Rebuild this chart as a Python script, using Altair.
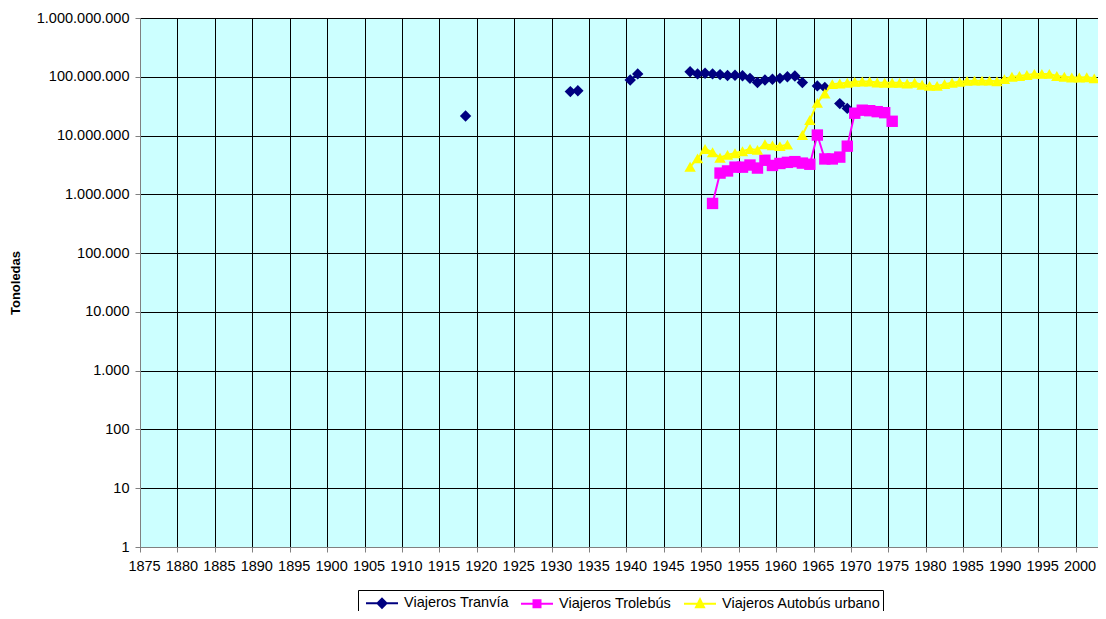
import altair as alt
import pandas as pd

names = ["Viajeros Tranvía", "Viajeros Trolebús", "Viajeros Autobús urbano"]
colors = ["#000080", "#FF00FF", "#FFFF00"]
shapes = ["diamond", "square", "triangle-up"]
legend_paths = [
    "M-0.5,0H2.7M1.1,-0.45L1.55,0L1.1,0.45L0.65,0Z",
    "M-0.5,0H2.7M0.75,-0.35H1.45V0.35H0.75Z",
    "M-0.5,0H2.7M1.1,-0.45L1.5,0.35H0.7Z",
]

tranvia_years = [1918, 1932, 1933, 1940, 1941,
                 1948, 1949, 1950, 1951, 1952, 1953, 1954, 1955, 1956, 1957,
                 1958, 1959, 1960, 1961, 1962, 1963,
                 1965, 1966, 1968, 1969]
tranvia_values = [21500000, 56000000, 58000000, 88000000, 112000000,
                  122000000, 112000000, 115000000, 112000000, 109000000, 105000000,
                  106000000, 104000000, 94000000, 80000000,
                  88000000, 91000000, 94000000, 100000000, 103000000, 80000000,
                  70000000, 66000000, 35000000, 29000000]

trolebus_years = list(range(1951, 1976))
trolebus_values = [700000, 2300000, 2500000, 2900000, 2900000, 3150000, 2800000,
                   3800000, 3100000, 3350000, 3500000, 3600000, 3400000, 3250000,
                   10200000, 4000000, 4000000, 4300000, 6600000,
                   24000000, 27000000, 26500000, 25500000, 24500000, 17500000]

autobus_years = list(range(1948, 1962)) + list(range(1963, 2003))
autobus_values = [2950000, 4100000, 5900000, 5200000, 4200000, 4700000, 5000000,
                  5400000, 5900000, 5700000, 7100000, 6800000, 6600000, 7000000,
                  10200000, 18400000, 36000000, 52000000, 75000000, 77000000,
                  79000000, 82000000, 83000000, 83000000, 80000000, 79000000,
                  79000000, 79000000, 77000000, 79000000, 73000000, 70000000,
                  70000000, 75000000, 79000000, 82000000, 85000000, 86000000,
                  86000000, 86000000, 84000000, 91000000, 100000000, 103000000,
                  107000000, 112000000, 112000000, 112000000, 103000000,
                  100000000, 97000000, 97000000, 98000000, 94000000]

x_ticks = list(range(1875, 2001, 5))
y_ticks = [1, 10, 100, 1000, 10000, 100000, 1000000, 10000000, 100000000, 1000000000]


def build(name, years, values):
    rows = []
    seg = 0
    prev = None
    for yr, v in zip(years, values):
        if prev is not None and yr != prev + 1:
            seg += 1
        rows.append({"serie": name, "anio": yr, "valor": v, "seg": seg})
        prev = yr
    return pd.DataFrame(rows)


frames = [
    build(names[0], tranvia_years, tranvia_values),
    build(names[1], trolebus_years, trolebus_values),
    build(names[2], autobus_years, autobus_values),
]
df = pd.concat(frames, ignore_index=True)

FONT = "Liberation Sans"

x_enc = alt.X(
    "xpos:Q",
    scale=alt.Scale(domain=[1875, 2003], nice=False, zero=False),
    axis=alt.Axis(
        values=x_ticks, format="d", title=None, grid=True, gridColor="#000000",
        gridWidth=1, gridOpacity=1, tickSize=5, tickColor="#808080",
        domainColor="#808080", labelFont=FONT, labelFontSize=14.5,
        labelColor="#000000", labelPadding=7, labelOffset=4,
        labelOverlap=False, labelFlush=False,
    ),
)
y_enc = alt.Y(
    "valor:Q",
    scale=alt.Scale(type="log", domain=[1, 1000000000], nice=False),
    axis=alt.Axis(
        values=y_ticks, title="Tonoledas", grid=True, gridColor="#000000",
        gridWidth=1, gridOpacity=1, tickSize=5, tickColor="#808080",
        domainColor="#808080", labelFont=FONT, labelFontSize=14.5,
        labelColor="#000000", labelPadding=6, labelOverlap=False,
        labelFlush=False,
        labelExpr="join(split(format(datum.value, ','), ','), '.')",
        titleFont=FONT, titleFontSize=13, titleFontWeight="bold",
        titleColor="#000000", titleAngle=270, titleX=-125, titleY=264.5,
        titleAlign="center", titleBaseline="middle",
    ),
)

base = alt.Chart(df).transform_calculate(xpos="datum.anio + 0.5")

layers = []
for name, col, shp in zip(names, colors, shapes):
    sub = base.transform_filter(alt.datum.serie == name)
    layers.append(
        sub.mark_line(color=col, strokeWidth=2).encode(
            x=x_enc, y=y_enc, detail="seg:N"
        )
    )
    layers.append(
        sub.mark_point(shape=shp, filled=True, color=col, opacity=1, size=130).encode(
            x=x_enc, y=y_enc
        )
    )

leg = alt.Legend(
    title=None, orient="none", legendX=218, legendY=572, direction="horizontal",
    columns=3, labelFont=FONT, labelFontSize=14.5, labelColor="#000000",
    symbolSize=400, symbolStrokeWidth=2, columnPadding=6, labelOffset=22,
    padding=2, strokeColor="#000000", fillColor="#FFFFFF", symbolOpacity=1,
)
legend_layer = (
    alt.Chart(df)
    .transform_filter("false")
    .mark_point(filled=True, opacity=1, size=400, strokeWidth=2)
    .encode(
        fill=alt.Fill("serie:N", scale=alt.Scale(domain=names, range=colors), legend=leg),
        stroke=alt.Stroke("serie:N", scale=alt.Scale(domain=names, range=colors), legend=leg),
        shape=alt.Shape("serie:N", scale=alt.Scale(domain=names, range=legend_paths), legend=leg),
    )
)

chart = (
    alt.layer(*layers, legend_layer)
    .properties(
        width=958, height=529,
        autosize=alt.AutoSizeParams(type="none"),
        padding={"left": 132, "top": 10, "right": 0, "bottom": 64},
        background="#FFFFFF",
        view=alt.ViewBackground(fill="#CCFFFF", stroke="#808080", strokeWidth=1),
    )
    .configure_view(fill="#CCFFFF", stroke="#808080", strokeWidth=1)
)

chart.save("out.html", embed_options={"renderer": "svg", "actions": False})
